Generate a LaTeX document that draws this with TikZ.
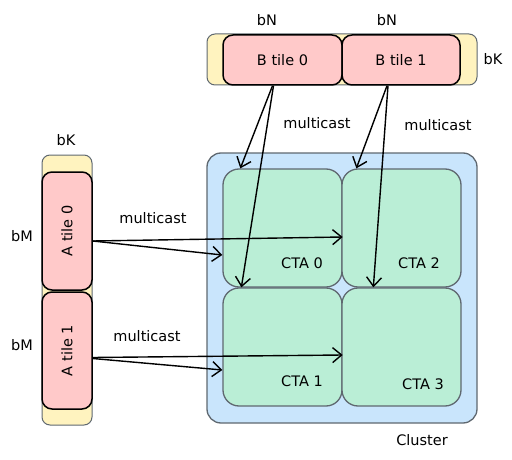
\documentclass[tikz,border=0pt]{standalone}
\usepackage{fontspec}
\setmainfont{DejaVu Sans}
\usetikzlibrary{arrows.meta, positioning}
\definecolor{cyellow}{HTML}{FFF3BF}
\definecolor{cpink}{HTML}{FFC9C9}
\definecolor{cblue}{HTML}{C9E5FC}
\definecolor{cgreen}{HTML}{BAEED6}
\definecolor{cgrey}{HTML}{5F6870}
\tikzset{
  every picture/.style={font=\fontsize{14.5}{17}\selectfont, line width=1.3pt},
  bar/.style={draw=cgrey, fill=cyellow, rounded corners=8pt, line width=1pt, inner sep=0pt},
  tile/.style={draw=black, fill=cpink, rounded corners=10pt, inner sep=0pt, line width=1.5pt},
  cluster/.style={draw=cgrey, fill=cblue, rounded corners=14pt, inner sep=0pt, minimum width=270pt, minimum height=270pt},
  cta/.style={draw=cgrey, fill=cgreen, rounded corners=16pt, inner sep=0pt, minimum width=119pt, minimum height=118pt},
  arrow/.style={-{Straight Barb[length=9pt, width=15pt]}, line width=1.4pt},
  note/.style={inner sep=1pt},
}
\begin{document}
\begin{tikzpicture}[x=1pt, y=-1pt]
  \useasboundingbox (0,0) rectangle (512,460);
  % B tiles along the top
  \node[bar, minimum width=270pt, minimum height=51pt] (bbar) at (342,59.5) {};
  \node[tile, minimum width=119pt, minimum height=50pt] (b0) at (282.5,60) {B tile 0};
  \node[tile, minimum width=118pt, minimum height=50pt] (b1) at (401,60) {B tile 1};
  % A tiles on the left
  \node[bar, minimum width=50pt, minimum height=270pt] (abar) at (67,290) {};
  \node[tile, minimum width=50pt, minimum height=118pt] (a0) at (67,231) {\rotatebox{90}{A tile 0}};
  \node[tile, minimum width=50pt, minimum height=117pt] (a1) at (67,350.5) {\rotatebox{90}{A tile 1}};
  % cluster of four CTAs
  \node[cluster] (cluster) at (342,288) {};
  \node[cta] (cta0) at (282.5,228) {};
  \node[cta] (cta2) at (401.5,228) {};
  \node[cta] (cta1) at (282.5,347) {};
  \node[cta] (cta3) at (401.5,347) {};
  \node[note] (l0) at (302,263) {CTA 0};
  \node[note] (l2) at (419,263) {CTA 2};
  \node[note] (l1) at (302,381) {CTA 1};
  \node[note] (l3) at (423,384) {CTA 3};
  \node[note] (lc) at (422,440) {Cluster};
  % sizes
  \node[note] (bn0) at (267,20) {bN};
  \node[note] (bn1) at (387,20) {bN};
  \node[note] (bkb) at (493,59) {bK};
  \node[note] (bka) at (66,140) {bK};
  \node[note] (bm0) at (22,236) {bM};
  \node[note] (bm1) at (22,345) {bM};
  % multicast arrows
  \draw[arrow] ([xshift=-10pt]b0.south) -- ([xshift=18pt]cta0.north west);
  \draw[arrow] ([xshift=-9pt]b0.south) -- ([xshift=19pt]cta1.north west);
  \draw[arrow] ([xshift=-14pt]b1.south) -- ([xshift=15pt]cta2.north west);
  \draw[arrow] ([xshift=-13pt]b1.south) -- ([xshift=32pt]cta3.north west);
  \draw[arrow] ([yshift=-10pt]a0.east) -- ([yshift=-9pt]cta0.east);
  \draw[arrow] ([yshift=-10pt]a0.east) -- ([yshift=-27pt]cta0.west);
  \draw[arrow] ([yshift=-7pt]a1.east) -- ([yshift=-8pt]cta1.east);
  \draw[arrow] ([yshift=-8pt]a1.east) -- ([yshift=-23pt]cta1.west);
  \node[note] (m0) at (317,123) {multicast};
  \node[note] (m1) at (438,125) {multicast};
  \node[note] (m2) at (153,218) {multicast};
  \node[note] (m3) at (147,336) {multicast};
\end{tikzpicture}
\end{document}
